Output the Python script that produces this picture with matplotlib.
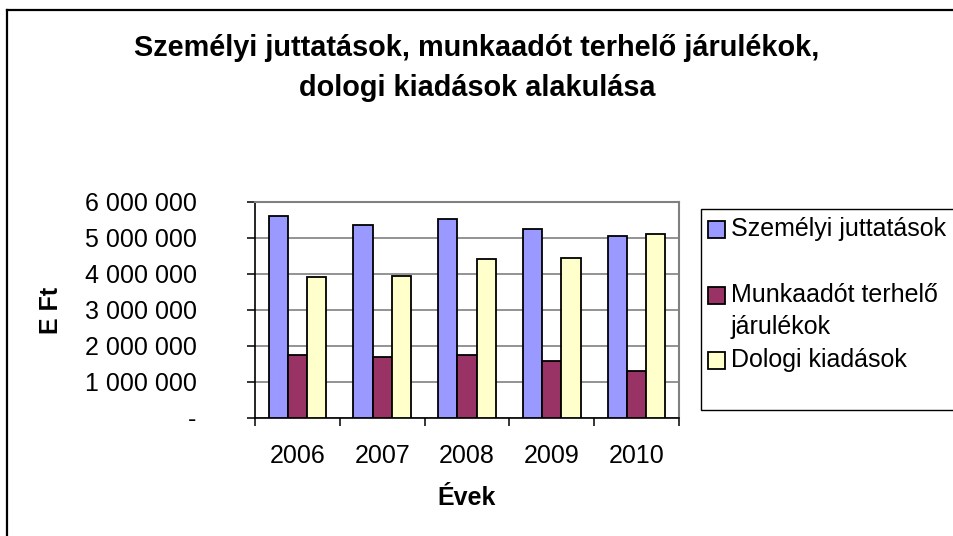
import numpy as np
import matplotlib.pyplot as plt
from matplotlib.patches import Rectangle
from matplotlib.lines import Line2D

years = ['2006', '2007', '2008', '2009', '2010']
szemelyi = [5600000, 5350000, 5510000, 5250000, 5030000]
munkaado = [1750000, 1680000, 1730000, 1570000, 1300000]
dologi = [3910000, 3920000, 4390000, 4440000, 5110000]
series_labels = ['Személyi juttatások', 'Munkaadót terhelő\njárulékok', 'Dologi kiadások']
colors = ['#9999FF', '#993366', '#FFFFCC']
title_lines = ['Személyi juttatások, munkaadót terhelő járulékok,', 'dologi kiadások alakulása']

plt.rcParams['font.family'] = ['Liberation Sans', 'DejaVu Sans']

W, H = 954, 536
fig = plt.figure(figsize=(W / 100, H / 100), dpi=100)

# pixel-space overlay for frame and legend
bg = fig.add_axes([0, 0, 1, 1])
bg.set_xlim(0, W)
bg.set_ylim(H, 0)
bg.axis('off')
bg.add_line(Line2D([7, 7], [10, H], color='black', lw=1.6))
bg.add_line(Line2D([7, W], [10, 10], color='black', lw=1.6))

ax = fig.add_axes([255 / W, 1 - 417.5 / H, (679 - 255) / W, (417.5 - 201.5) / H])
x = np.arange(len(years))
width = 0.226
for i, (vals, c) in enumerate(zip([szemelyi, munkaado, dologi], colors)):
    ax.bar(x + (i - 1) * width, vals, width, color=c, edgecolor='black', linewidth=1.3, zorder=3)

ax.set_xlim(-0.5, len(years) - 0.5)
ax.set_ylim(0, 6000000)
yt = np.arange(0, 6000001, 1000000)
ax.set_yticks(yt)
ax.set_yticklabels(['-' if v == 0 else f'{v:,}'.replace(',', ' ') for v in yt], fontsize=18)
ax.yaxis.grid(True, color='#808080', lw=1.2, zorder=0)
ax.set_xticks(x)
ax.set_xticklabels(years, fontsize=18)
ax.set_xticks(np.arange(-0.5, len(years), 1), minor=True)
ax.tick_params(axis='x', which='major', length=0, pad=19)
ax.tick_params(axis='x', which='minor', length=6, width=1.1, direction='out')
ax.tick_params(axis='y', length=6, width=1.1, direction='out', pad=36)
for s in ['left', 'bottom']:
    ax.spines[s].set_color('black')
    ax.spines[s].set_linewidth(1.2)
for s in ['top', 'right']:
    ax.spines[s].set_color('#808080')
    ax.spines[s].set_linewidth(1.5)

fig.text(51 / W, 1 - 310 / H, 'E Ft', rotation=90, ha='center', va='center', fontsize=18, fontweight='bold')
fig.text(467 / W, 1 - 498 / H, 'Évek', ha='center', va='center', fontsize=18, fontweight='bold')
for line, yy in zip(title_lines, [48, 88]):
    fig.text(477 / W, 1 - yy / H, line, ha='center', va='center', fontsize=20.8, fontweight='bold')

# legend
bg.add_patch(Rectangle((701, 209), 300, 201, facecolor='white', edgecolor='black', lw=1.0))
leg_rows = [229, 295, 360]
for lab, c, yy in zip(series_labels, colors, leg_rows):
    bg.add_patch(Rectangle((708.5, yy - 8), 16.5, 16.5, facecolor=c, edgecolor='black', lw=1.3))
    ty = yy + 16 if '\n' in lab else yy
    bg.text(731, ty, lab, ha='left', va='center', fontsize=18, linespacing=1.42)

fig.savefig('out.png', dpi=100)
